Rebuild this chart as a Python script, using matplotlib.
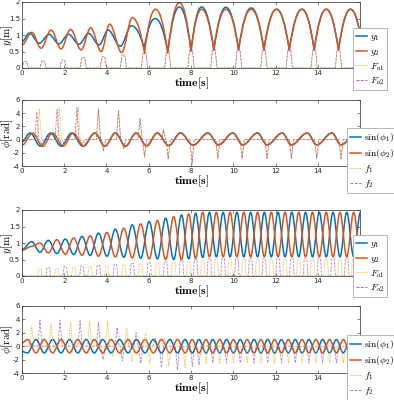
import numpy as np
import matplotlib
matplotlib.use("Agg")
import matplotlib.pyplot as plt
from matplotlib.path import Path
from matplotlib.patches import PathPatch
from matplotlib.lines import Line2D

plt.rcParams["mathtext.fontset"] = "cm"
plt.rcParams["font.family"] = "DejaVu Sans"

C_BLUE = "#0072BD"
C_ORANGE = "#D95319"
C_YELLOW = "#EDB120"
C_PURPLE = "#7E2F8E"

# ── Panel 1: y1, y2 [m] (extrema) ──
p1_t_y1 = [0, 0.35, 0.82, 1.28, 1.75, 2.2, 2.7, 3.15, 3.65, 4.08, 4.65, 5.18, 5.78, 6.3, 6.9,
           7.45, 8.0, 8.5, 9.08, 9.65, 10.25, 10.85, 11.45, 12.05, 12.65, 13.25, 13.83, 14.4,
           14.98, 15.55, 16.13]
p1_y1 = [0.8, 1.06, 0.75, 1.02, 0.73, 1.02, 0.72, 1.05, 0.7, 1.15, 0.66, 1.28, 0.6, 1.5, 0.5,
         1.85, 0.52, 1.85, 0.55, 1.84, 0.55, 1.82, 0.55, 1.78, 0.55, 1.78, 0.55, 1.78, 0.55,
         1.78, 0.55]
p1_t_y2 = [0, 0.47, 0.9, 1.38, 1.85, 2.3, 2.8, 3.25, 3.75, 4.15, 4.72, 5.22, 5.8, 6.32, 6.9,
           7.45, 8.0, 8.5, 9.08, 9.65, 10.25, 10.85, 11.45, 12.05, 12.65, 13.25, 13.83, 14.4,
           14.98, 15.55, 16.13]
p1_y2 = [0.7, 1.08, 0.6, 1.15, 0.58, 1.17, 0.55, 1.22, 0.5, 1.33, 0.47, 1.52, 0.45, 1.78, 0.45,
         1.98, 0.52, 1.78, 0.55, 1.78, 0.55, 1.78, 0.55, 1.78, 0.55, 1.78, 0.55, 1.78, 0.55,
         1.78, 0.55]
p1_fa_t = [0.15, 1.0, 1.95, 2.9, 3.85, 4.8, 5.8, 6.9, 8.0, 9.08, 10.25, 11.45, 12.65, 13.83, 14.98]
p1_fa1 = [0.15, 0.18, 0.2, 0.28, 0.3, 0.36, 0.42, 0.45, 0.5, 0.52, 0.52, 0.52, 0.52, 0.52, 0.52]
p1_fa2 = [0.2, 0.22, 0.25, 0.32, 0.35, 0.4, 0.46, 0.48, 0.55, 0.55, 0.55, 0.55, 0.55, 0.55, 0.55]

# ── Panel 2: sin(phi1), sin(phi2), f1, f2 ──
p2_t_s1 = [0, 0.38, 0.88, 1.35, 1.85, 2.35, 2.88, 3.45, 3.92, 4.42, 4.9, 5.4, 5.9, 6.4, 6.95,
           7.5, 8.1, 8.8, 9.3, 9.98, 10.45, 11.15, 11.6, 12.32, 12.75, 13.5, 13.95, 14.67,
           15.1, 15.84, 16.3]
p2_t_s2 = [0, 0.5, 0.98, 1.45, 1.95, 2.42, 2.92, 3.45, 3.92, 4.42, 4.9, 5.4, 5.9, 6.4, 6.95,
           7.5, 8.1, 8.8, 9.3, 9.98, 10.45, 11.15, 11.6, 12.32, 12.75, 13.5, 13.95, 14.67,
           15.1, 15.84, 16.3]
p2_s1 = [-0.3, 1, -1, 1, -1, 1, -1, 1, -1, 1, -1, 1, -0.95, 1, -0.9, 1, -0.85, 1, -0.8, 1,
         -0.8, 1, -0.8, 1, -0.8, 1, -0.8, 1, -0.8, 1, -0.8]
p2_s2 = [-0.85, 1, -1, 1, -1, 1, -1, 1, -1, 1, -1, 1, -0.95, 1, -0.9, 1, -0.85, 1, -0.8, 1,
         -0.8, 1, -0.8, 1, -0.8, 1, -0.8, 1, -0.8, 1, -0.8]
p2_f1_t = [0.82, 1.06, 1.76, 2.0, 2.66, 2.9, 3.62, 3.86, 4.57, 4.81, 5.59, 5.8, 6.7, 6.92,
           8.05, 9.27, 10.42, 11.6, 12.75, 13.95, 15.1]
p2_f1 = [4.6, -1.0, 4.9, -1.0, 5.0, -1.0, 4.7, -1.8, 4.5, -1.5, 3.3, -2.7, 1.6, -3.1,
         -3.8, -3.0, -3.0, -3.0, -3.0, -3.0, -3.0]
p2_f2_t = [0.7, 0.94, 1.66, 1.9, 2.6, 2.84, 3.62, 3.86, 4.57, 4.81, 5.59, 5.8, 6.7, 6.92,
           8.05, 9.27, 10.42, 11.6, 12.75, 13.95, 15.1]
p2_f2 = [4.2, -0.8, 4.6, -0.9, 4.8, -1.0, 4.5, -1.6, 4.3, -1.4, 3.1, -2.5, 1.4, -2.9,
         -3.6, -2.8, -2.8, -2.8, -2.8, -2.8, -2.8]

# ── Panel 3: y1, y2 [m], antiphase case ──
p3_t = [0, 0.46, 0.85, 1.25, 1.65, 2.05, 2.45, 2.84, 3.23, 3.62, 4.02, 4.42, 4.82, 5.22, 5.62,
        6.02, 6.41, 6.8, 7.18, 7.55, 7.89, 8.22, 8.55, 8.87, 9.2, 9.52, 9.85, 10.17, 10.5,
        10.82, 11.15, 11.47, 11.8, 12.12, 12.45, 12.77, 13.1, 13.42, 13.75, 14.07, 14.4,
        14.72, 15.05, 15.37, 15.7, 16.02]
p3_y1 = [0.8,
         1.04, 0.72, 1.08, 0.68, 1.12, 0.65, 1.2, 0.62, 1.3, 0.6, 1.42, 0.57,
         1.55, 0.54, 1.65, 0.52, 1.75, 0.5, 1.85, 0.52, 1.9, 0.56, 1.93, 0.58,
         1.93, 0.58, 1.93, 0.58, 1.93, 0.58, 1.93, 0.58, 1.93, 0.58, 1.93, 0.58,
         1.93, 0.58, 1.93, 0.58, 1.93, 0.58, 1.93, 0.58, 1.93]
p3_y2 = [0.78,
         0.9, 1.0, 0.7, 1.1, 0.66, 1.15, 0.63, 1.22, 0.6, 1.32, 0.58, 1.45,
         0.55, 1.58, 0.52, 1.68, 0.5, 1.8, 0.5, 1.88, 0.54, 1.93, 0.58, 1.93,
         0.58, 1.93, 0.58, 1.93, 0.58, 1.93, 0.58, 1.93, 0.58, 1.93, 0.58, 1.93,
         0.58, 1.93, 0.58, 1.93, 0.58, 1.93, 0.58, 1.93, 0.58]
p3_fa1_t = [0.85, 1.65, 2.45, 3.23, 4.02, 4.82, 5.62, 6.41, 7.18, 7.89, 8.55, 9.2, 9.85, 10.5,
            11.15, 11.8, 12.45, 13.1, 13.75, 14.4, 15.05, 15.7]
p3_fa1 = [0.2, 0.22, 0.25, 0.28, 0.3, 0.33, 0.36, 0.4, 0.42, 0.45, 0.48, 0.5, 0.5, 0.5,
          0.5, 0.5, 0.5, 0.5, 0.5, 0.5, 0.5, 0.5]
p3_fa2_t = [1.25, 2.05, 2.84, 3.62, 4.42, 5.22, 6.02, 6.8, 7.55, 8.22, 8.87, 9.52, 10.17,
            10.82, 11.47, 12.12, 12.77, 13.42, 14.07, 14.72, 15.37]
p3_fa2 = [0.25, 0.28, 0.3, 0.32, 0.35, 0.38, 0.4, 0.43, 0.46, 0.5, 0.52, 0.52, 0.52,
          0.52, 0.52, 0.52, 0.52, 0.52, 0.52, 0.52, 0.52]

# ── Panel 4: sin(phi1), sin(phi2), f1, f2, antiphase case ──
p4_t = [0, 0.26, 0.66, 1.05, 1.45, 1.85, 2.25, 2.64, 3.04, 3.42, 3.82, 4.22, 4.62, 5.02, 5.42,
        5.82, 6.22, 6.6, 7.0, 7.36, 7.72, 8.06, 8.38, 8.71, 9.03, 9.36, 9.68, 10.01, 10.33,
        10.66, 10.98, 11.31, 11.63, 11.96, 12.28, 12.61, 12.93, 13.26, 13.58, 13.91, 14.23,
        14.56, 14.88, 15.21, 15.53, 15.86, 16.18]
p4_s1 = [-0.8,
         -1, 1, -1, 1, -1, 1, -1, 1, -1, 1, -1, 1,
         -1, 1, -1, 1, -1, 1, -1, 1, -1, 1, -1, 1,
         -1, 1, -1, 1, -1, 1, -1, 1, -1, 1, -1, 1,
         -1, 1, -1, 1, -1, 1, -1, 1, -1, 1]
p4_s2 = [0.5,
         1, -1, 1, -1, 1, -1, 1, -1, 1, -1, 1, -1,
         1, -1, 1, -1, 1, -1, 1, -1, 1, -1, 1, -1,
         1, -1, 1, -1, 1, -1, 1, -1, 1, -1, 1, -1,
         1, -1, 1, -1, 1, -1, 1, -1, 1, -1]
p4_f1_t = [0.46, 1.38, 2.3, 3.2, 4.05, 4.3, 4.95, 5.2, 5.85, 6.05, 6.75, 6.95, 7.72,
           8.71, 9.36, 10.01, 10.66, 11.31, 11.96, 12.61, 13.26, 13.91, 14.56, 15.21, 15.86]
p4_f1 = [3.0, 3.3, 3.6, 3.8, 3.8, -1.5, 2.6, -2.3, 1.8, -2.6, 1.2, -3.0, -3.2,
         -2.6, -2.5, -2.5, -2.5, -2.5, -2.5, -2.5, -2.5, -2.5, -2.5, -2.5, -2.5]
p4_f2_t = [0.85, 1.8, 2.75, 3.62, 3.84, 4.5, 4.75, 5.4, 5.62, 6.3, 6.6, 7.36, 8.06, 8.38,
           9.03, 9.68, 10.33, 10.98, 11.63, 12.28, 12.93, 13.58, 14.23, 14.88, 15.53]
p4_f2 = [3.9, 3.9, 3.8, 3.6, -2.0, 2.8, -2.2, 2.0, -2.6, 1.2, -3.2, -3.5, -3.0, -2.8,
         -2.5, -2.5, -2.5, -2.5, -2.5, -2.5, -2.5, -2.5, -2.5, -2.5, -2.5]

T_END = 16.0


def draw_wave(ax, ts, vs, color, lw=1.1, cusp_after=None):
    # smooth curve through extrema (cubic Beziers); troughs after cusp_after are V-shaped
    verts = [(ts[0], vs[0])]
    codes = [Path.MOVETO]
    for i in range(len(ts) - 1):
        t0, v0, t1, v1 = ts[i], vs[i], ts[i + 1], vs[i + 1]
        dt, dv = t1 - t0, v1 - v0
        sharp0 = cusp_after is not None and i > 0 and t0 >= cusp_after and dv > 0
        sharp1 = cusp_after is not None and t1 >= cusp_after and dv < 0
        c1 = (t0 + dt / 3, v0 + 2 * dv / 3) if sharp0 else (t0 + 0.36 * dt, v0)
        c2 = (t1 - dt / 3, v1 - 2 * dv / 3) if sharp1 else (t1 - 0.36 * dt, v1)
        verts += [c1, c2, (t1, v1)]
        codes += [Path.CURVE4] * 3
    ax.add_patch(PathPatch(Path(verts, codes), fill=False, edgecolor=color, lw=lw,
                           capstyle="round", joinstyle="round"))


def spike_line(ts, hs, half=0.1):
    tt, vv = [0.0], [0.0]
    for c, h in zip(ts, hs):
        tt += [max(c - half, tt[-1]), c, c + half]
        vv += [0.0, h, 0.0]
    tt.append(T_END)
    vv.append(0.0)
    return tt, vv


def pulse_line(ts, hs, width, ramp):
    tt, vv = [0.0], [0.0]
    for c, h in zip(ts, hs):
        tt += [c - width / 2, c - width / 2 + ramp, c + width / 2 - ramp, c + width / 2]
        vv += [0.0, h, h, 0.0]
    tt.append(T_END)
    vv.append(0.0)
    return tt, vv


def style_axes(ax, ylim, yticks, ylabels, ylabel):
    ax.set_xlim(0, T_END)
    ax.set_ylim(*ylim)
    ax.set_xticks([0, 2, 4, 6, 8, 10, 12, 14])
    ax.set_yticks(yticks)
    ax.set_yticklabels(ylabels)
    ax.tick_params(direction="in", length=2, width=0.4, labelsize=5, pad=1.5,
                   top=True, right=True, colors="#262626")
    for s in ax.spines.values():
        s.set_linewidth(0.5)
        s.set_color("#262626")
    ax.set_xlabel(r"$\mathbf{time[s]}$", fontsize=8.5)
    ax.xaxis.set_label_coords(0.5, -0.12)
    ax.set_ylabel(ylabel, fontsize=8)
    ax.yaxis.set_label_coords(-0.02, 0.5)


def add_legend(fig, ax, labels, x0, y0):
    handles = [Line2D([], [], color=C_BLUE, lw=1.1),
               Line2D([], [], color=C_ORANGE, lw=1.1),
               Line2D([], [], color=C_YELLOW, lw=0.7, ls=(0, (1, 1))),
               Line2D([], [], color=C_PURPLE, lw=0.7, ls=(0, (3, 1.5)), alpha=0.7)]
    leg = ax.legend(handles, labels, loc="lower left", bbox_to_anchor=(x0, y0),
                    bbox_transform=fig.transFigure, fontsize=7, frameon=True,
                    fancybox=False, edgecolor="#999999", framealpha=1, borderpad=0.3,
                    labelspacing=0.3, handlelength=1.1, handletextpad=0.3,
                    borderaxespad=0)
    leg.get_frame().set_linewidth(0.5)


assert len(p3_t) == len(p3_y1) == len(p3_y2)
assert len(p4_t) == len(p4_s1) == len(p4_s2)

fig = plt.figure(figsize=(3.94, 4.0), dpi=100)
ax1 = fig.add_axes([0.0558, 0.83, 0.858, 0.165])
ax2 = fig.add_axes([0.0558, 0.585, 0.858, 0.165])
ax3 = fig.add_axes([0.0558, 0.31, 0.858, 0.165])
ax4 = fig.add_axes([0.0558, 0.0675, 0.858, 0.1675])

f_style1 = dict(color=C_YELLOW, lw=0.6, ls=(0, (1, 1)))
f_style2 = dict(color=C_PURPLE, lw=0.6, ls=(0, (3, 1.5)), alpha=0.6)

# Panel 1
draw_wave(ax1, p1_t_y1, p1_y1, C_BLUE, cusp_after=5.5)
draw_wave(ax1, p1_t_y2, p1_y2, C_ORANGE, cusp_after=5.5)
ax1.plot(*pulse_line(p1_fa_t, p1_fa1, 0.3, 0.08), **f_style1)
ax1.plot(*pulse_line(p1_fa_t, p1_fa2, 0.3, 0.08), **f_style2)
style_axes(ax1, (0, 2), [0, 0.5, 1, 1.5, 2], ["0", "0.5", "1", "1.5", "2"],
           r"$y[\mathrm{m}]$")
add_legend(fig, ax1, [r"$y_1$", r"$y_2$", r"$F_{a1}$", r"$F_{a2}$"], 0.896, 0.775)

# Panel 2
draw_wave(ax2, p2_t_s1, p2_s1, C_BLUE)
draw_wave(ax2, p2_t_s2, p2_s2, C_ORANGE)
ax2.plot(*spike_line(p2_f1_t, p2_f1), **f_style1)
ax2.plot(*spike_line(p2_f2_t, p2_f2), **f_style2)
style_axes(ax2, (-4, 6), [-4, -2, 0, 2, 4, 6], ["-4", "-2", "0", "2", "4", "6"],
           r"$\phi[\mathrm{rad}]$")
add_legend(fig, ax2, [r"$\sin(\phi_1)$", r"$\sin(\phi_2)$", r"$f_1$", r"$f_2$"], 0.881, 0.5175)

# Panel 3
draw_wave(ax3, p3_t, p3_y1, C_BLUE)
draw_wave(ax3, p3_t, p3_y2, C_ORANGE)
ax3.plot(*pulse_line(p3_fa1_t, p3_fa1, 0.22, 0.05), **f_style1)
ax3.plot(*pulse_line(p3_fa2_t, p3_fa2, 0.22, 0.05), **f_style2)
style_axes(ax3, (0, 2), [0, 0.5, 1, 1.5, 2], ["0", "0.5", "1", "1.5", "2"],
           r"$y[\mathrm{m}]$")
add_legend(fig, ax3, [r"$y_1$", r"$y_2$", r"$F_{a1}$", r"$F_{a2}$"], 0.896, 0.2575)

# Panel 4
draw_wave(ax4, p4_t, p4_s1, C_BLUE)
draw_wave(ax4, p4_t, p4_s2, C_ORANGE)
ax4.plot(*spike_line(p4_f1_t, p4_f1), **f_style1)
ax4.plot(*spike_line(p4_f2_t, p4_f2), **f_style2)
style_axes(ax4, (-4, 6), [-4, -2, 0, 2, 4, 6], ["-4", "-2", "0", "2", "4", "6"],
           r"$\phi[\mathrm{rad}]$")
add_legend(fig, ax4, [r"$\sin(\phi_1)$", r"$\sin(\phi_2)$", r"$f_1$", r"$f_2$"], 0.881, 0.0)

fig.savefig("out.png", dpi=100)
plt.close()
